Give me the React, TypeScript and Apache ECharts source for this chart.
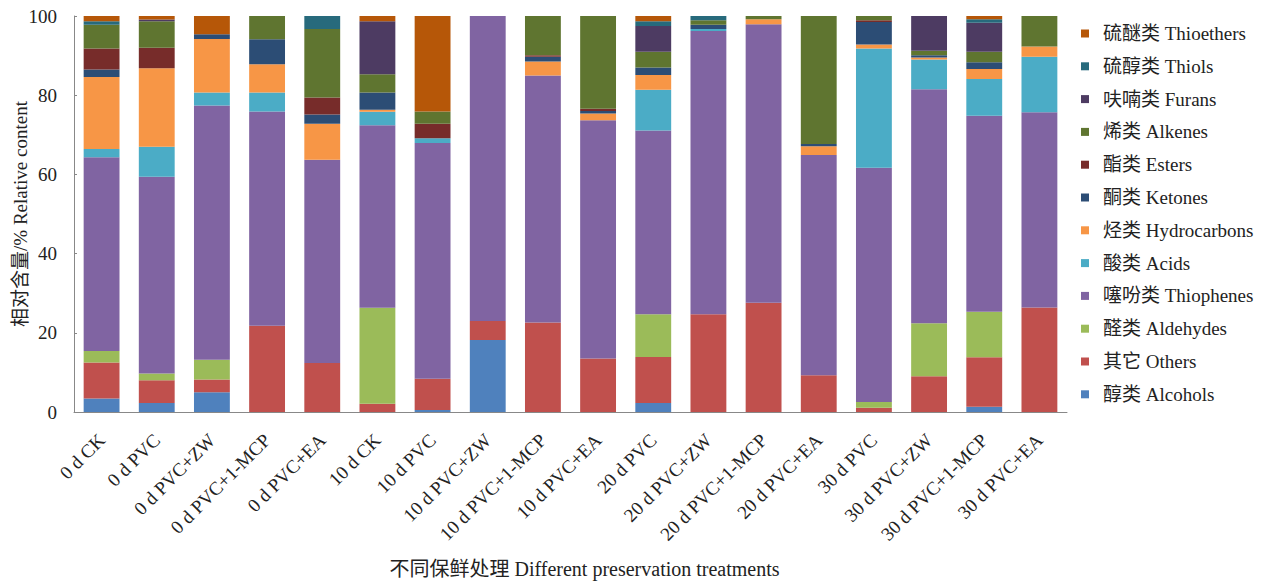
import React, { useEffect, useRef } from "react";
import * as echarts from "echarts";

const categories = [
  "0 d CK", "0 d PVC", "0 d PVC+ZW", "0 d PVC+1-MCP", "0 d PVC+EA",
  "10 d CK", "10 d PVC", "10 d PVC+ZW", "10 d PVC+1-MCP", "10 d PVC+EA",
  "20 d PVC", "20 d PVC+ZW", "20 d PVC+1-MCP", "20 d PVC+EA",
  "30 d PVC", "30 d PVC+ZW", "30 d PVC+1-MCP", "30 d PVC+EA",
];

const alcohols =     [3.4, 2.3, 5.0, 0, 0, 0, 0.5, 18.2, 0, 0, 2.3, 0, 0, 0, 0, 0, 1.3, 0];
const others =       [9.1, 5.7, 3.2, 21.8, 12.4, 2.1, 7.9, 4.8, 22.6, 13.5, 11.6, 24.7, 27.6, 9.3, 1.1, 9.0, 12.5, 26.4];
const aldehydes =    [2.9, 1.7, 5.0, 0, 0, 24.2, 0, 0, 0, 0, 10.8, 0, 0, 0, 1.4, 13.4, 11.5, 0];
const thiophenes =   [48.9, 49.7, 64.2, 54.1, 51.3, 46.1, 59.5, 77.0, 62.4, 60.2, 46.4, 71.5, 70.3, 55.6, 59.2, 59.1, 49.5, 49.3];
const acids =        [2.1, 7.6, 3.3, 4.8, 0, 3.4, 1.2, 0, 0, 0, 10.3, 0.5, 0, 0, 30.1, 7.5, 9.3, 14.0];
const hydrocarbons = [18.2, 19.8, 13.5, 7.1, 9.1, 0.5, 0, 0, 3.5, 1.7, 3.7, 0, 1.3, 2.2, 1.0, 0.5, 2.5, 2.6];
const ketones =      [1.9, 0, 1.2, 6.3, 2.3, 4.4, 0, 0, 1.2, 0.6, 1.9, 1.1, 0, 0.6, 5.7, 0.6, 1.7, 0];
const esters =       [5.3, 5.2, 0, 0, 4.3, 0, 3.7, 0, 0.4, 0.6, 0, 0, 0, 0, 0.4, 0, 0, 0];
const alkenes =      [6.0, 6.7, 0, 5.9, 17.3, 4.6, 3.1, 0, 9.9, 23.4, 4.0, 1.1, 0.8, 32.3, 1.1, 1.1, 2.7, 7.7];
const furans =       [0, 0.4, 0, 0, 0, 13.4, 0, 0, 0, 0, 6.5, 0, 0, 0, 0, 8.8, 7.3, 0];
const thiols =       [0.9, 0, 0, 0, 3.3, 0, 0, 0, 0, 0, 1.2, 1.1, 0, 0, 0, 0, 0.9, 0];
const thioethers =   [1.3, 0.9, 4.6, 0, 0, 1.3, 24.1, 0, 0, 0, 1.3, 0, 0, 0, 0, 0, 0.8, 0];

const seriesNames = [
  "醇类 Alcohols", "其它 Others", "醛类 Aldehydes", "噻吩类 Thiophenes", "酸类 Acids",
  "烃类 Hydrocarbons", "酮类 Ketones", "酯类 Esters", "烯类 Alkenes", "呋喃类 Furans",
  "硫醇类 Thiols", "硫醚类 Thioethers",
];
const seriesData = [alcohols, others, aldehydes, thiophenes, acids, hydrocarbons, ketones, esters, alkenes, furans, thiols, thioethers];
const colors = ["#4F81BD", "#C0504D", "#9BBB59", "#8064A2", "#4BACC6", "#F79646", "#2C4D75", "#772C2A", "#5F7530", "#4D3B62", "#276A7C", "#B65708"];
const yTicks = [0, 20, 40, 60, 80, 100];

const FONT = "'Liberation Serif', 'Times New Roman', 'Noto Sans CJK SC', serif";

export default function App() {
  const ref = useRef<HTMLDivElement>(null);
  useEffect(() => {
    if (!ref.current) return;
    const chart = echarts.init(ref.current, undefined, { renderer: "svg" });
    chart.setOption({
      animation: false,
      color: colors,
      grid: { left: 74, right: 200, top: 16, bottom: 169 },
      legend: {
        orient: "vertical",
        left: 1076,
        top: 18,
        itemWidth: 8,
        itemHeight: 8,
        itemGap: 11.8,
        icon: "rect",
        data: [...seriesNames].reverse(),
        textStyle: { fontFamily: FONT, fontSize: 19, color: "#222", lineHeight: 21, padding: [0, 0, 0, 9] },
      },
      xAxis: {
        type: "category",
        data: categories,
        name: "不同保鲜处理 Different preservation treatments",
        nameLocation: "middle",
        nameGap: 147,
        nameMoveOverlap: false,
        nameTextStyle: { fontFamily: FONT, fontSize: 20, color: "#222", padding: [0, 0, 0, 28] },
        axisLine: { lineStyle: { color: "#888" } },
        axisTick: { lineStyle: { color: "#888" }, length: 4 },
        axisLabel: { rotate: 45, fontFamily: FONT, fontSize: 19, color: "#222", margin: 25, interval: 0 },
      },
      yAxis: {
        type: "value",
        min: 0,
        max: 100,
        interval: 20,
        name: "相对含量/% Relative content",
        nameLocation: "middle",
        nameGap: 44,
        nameMoveOverlap: false,
        nameTextStyle: { fontFamily: FONT, fontSize: 19, color: "#222" },
        axisLine: { show: true, lineStyle: { color: "#888" } },
        axisTick: { show: true, inside: true, length: 3, lineStyle: { color: "#888" } },
        splitLine: { show: false },
        axisLabel: {
          fontFamily: FONT, fontSize: 19, color: "#222", margin: 17,
          formatter: (v: number) => (yTicks.includes(v) ? String(v) : ""),
        },
      },
      series: seriesNames.map((name, i) => ({
        name,
        type: "bar",
        stack: "total",
        barWidth: "65%",
        data: seriesData[i],
        itemStyle: { color: colors[i] },
      })),
    });
    return () => chart.dispose();
  }, []);
  return <div ref={ref} style={{ width: 1267, height: 584, position: "absolute", left: 0, top: 0 }} />;
}
